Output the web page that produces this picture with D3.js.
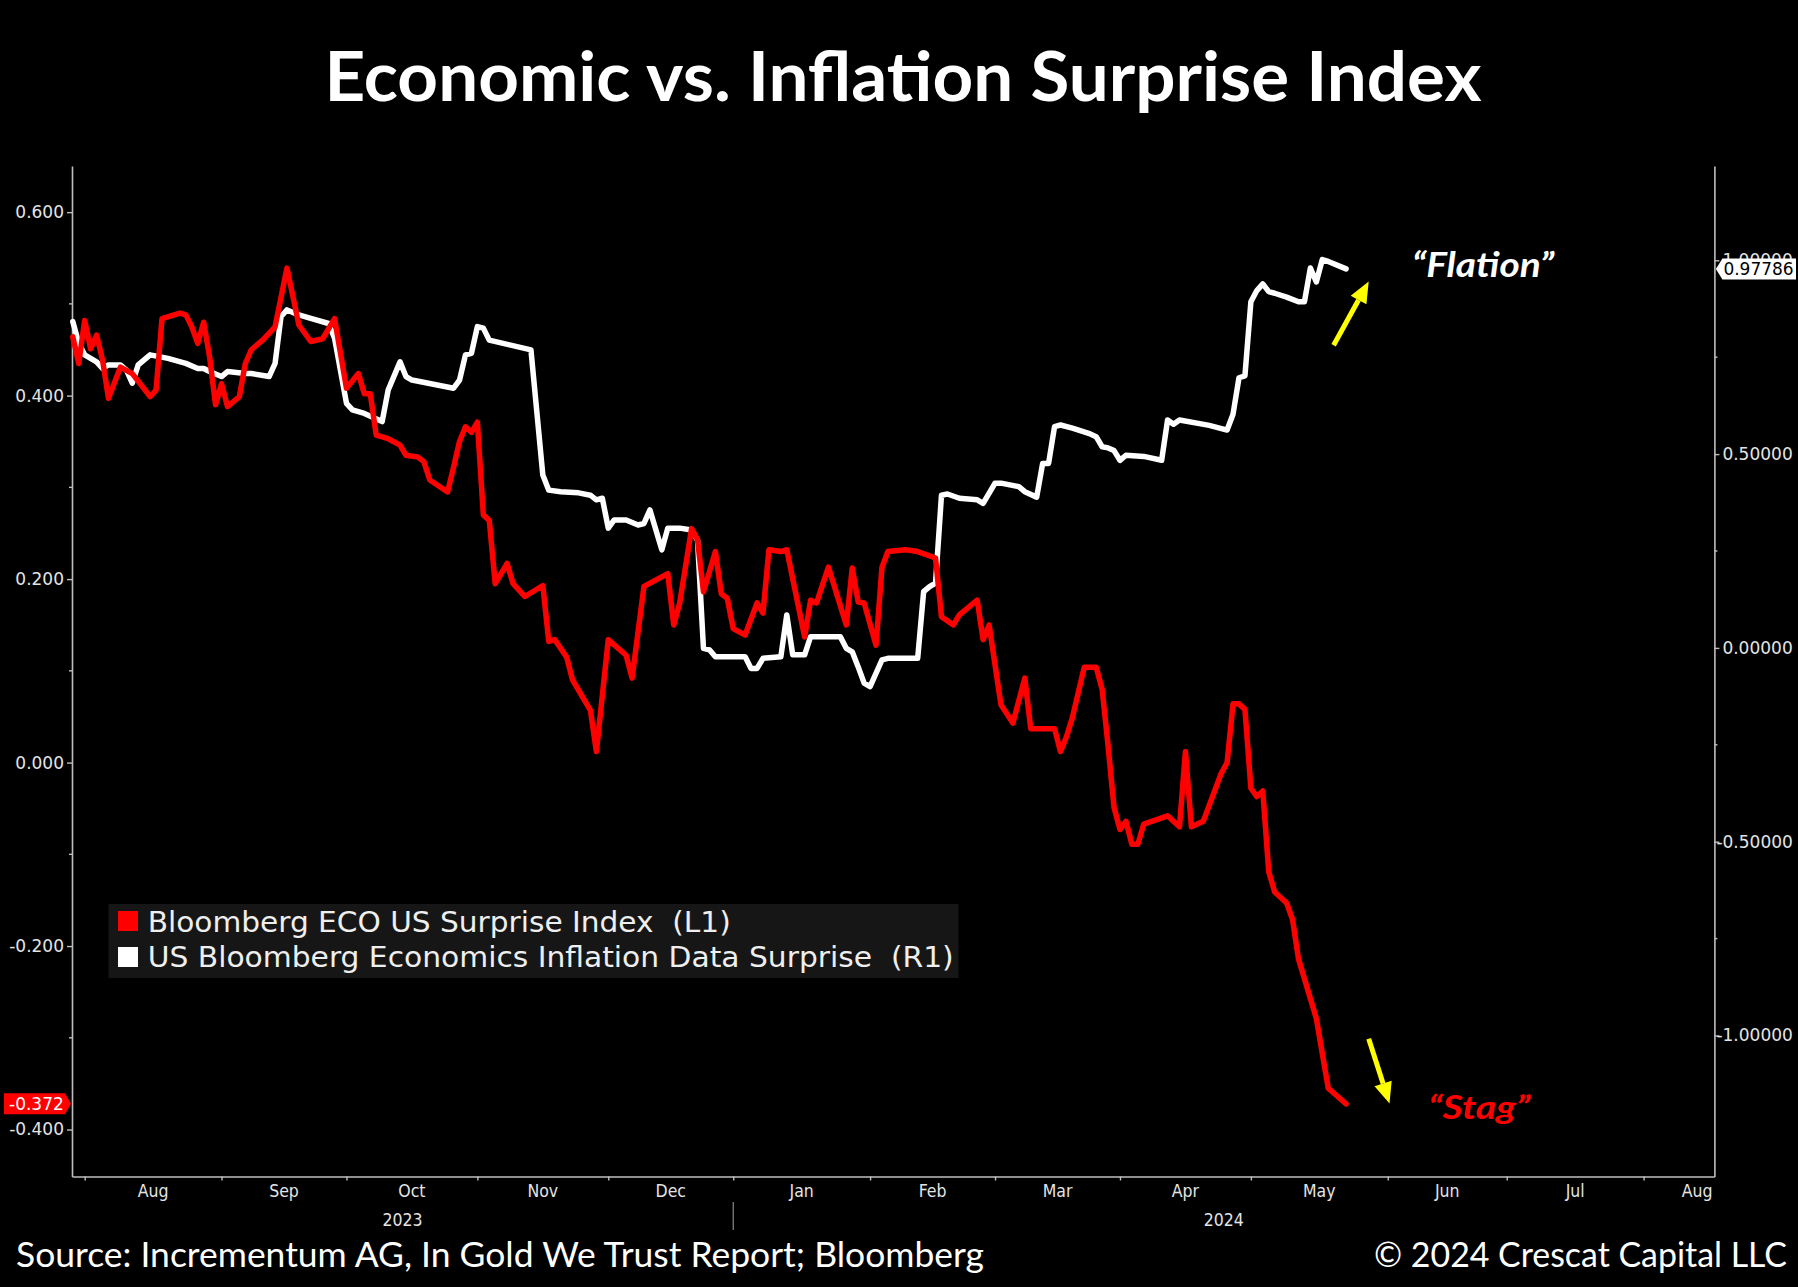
<!DOCTYPE html>
<html><head><meta charset="utf-8">
<script src="https://cdn.jsdelivr.net/npm/d3@7"></script>
<style>
html,body{margin:0;padding:0;background:#000;}
svg{display:block;}
</style></head><body>
<svg id="chart" width="1798" height="1287"></svg>
<script>
// ---------- DATA ----------
const titleText = "Economic vs. Inflation Surprise Index";
const sourceText = "Source: Incrementum AG, In Gold We Trust Report; Bloomberg";
const copyrightText = "© 2024 Crescat Capital LLC";
const seriesNames = ["Bloomberg ECO US Surprise Index  (L1)", "US Bloomberg Economics Inflation Data Surprise  (R1)"];
const annotationTexts = ["\u201CFlation\u201D", "\u201CStag\u201D"];

// business-day calendar (index 0 = 2023-08-01)
const baseDateStr = "2023-08-01";
const monthStarts = ["2023-08-01","2023-09-01","2023-10-01","2023-11-01","2023-12-01","2024-01-01","2024-02-01",
  "2024-03-01","2024-04-01","2024-05-01","2024-06-01","2024-07-01","2024-08-01","2024-09-01"];
const monthLabels = ["Aug","Sep","Oct","Nov","Dec","Jan","Feb","Mar","Apr","May","Jun","Jul","Aug"];
const yearLabels = ["2023","2024"];
const yearBreak = "2024-01-01";

const leftTicks = [0.6, 0.4, 0.2, 0, -0.2, -0.4];
const leftMinorTicks = [0.5, 0.3, 0.1, -0.1, -0.3];
const rightTicks = [1, 0.5, 0, -0.5, -1];
const rightMinorTicks = [0.75, 0.25, -0.25, -0.75];

// Bloomberg ECO US Surprise Index (left axis) — business days since 2023-08-01
const ecoDay = [-2,-1,0,1,2,3,4,6,8,11,12,13,16,17,18,19,20,21,22,23,24,26,27,28,30,32,34,35,36,38,40,42,44,46,47,48,49,51,53,
  54,56,57,58,61,62,63,64,65,66,67,68,69,71,72,73,74,77,78,79,81,82,85,86,88,91,92,94,98,99,100,102,103,104,106,107,108,109,
  111,113,114,115,117,118,121,122,123,125,128,129,130,131,133,134,135,138,140,143,144,146,147,150,151,152,154,156,158,159,163,164,165,
  166,168,170,171,172,173,174,175,176,177,178,182,184,185,186,188,191,192,193,194,195,196,197,198,199,200,202,203,204,207,209,212];
const ecoVal = [0.464,0.435,0.482,0.451,0.466,0.439,0.397,0.431,0.424,0.399,0.406,0.484,0.490,0.488,0.475,0.457,0.480,0.442,0.390,0.413,0.388,0.399,0.435,0.450,0.461,0.475,0.539,0.508,0.477,0.459,0.462,0.484,0.408,0.424,0.402,0.402,0.357,0.353,0.346,
  0.335,0.333,0.328,0.308,0.295,0.322,0.350,0.366,0.360,0.371,0.270,0.264,0.195,0.217,0.195,0.188,0.181,0.193,0.132,0.134,0.115,0.090,0.057,0.012,0.134,0.117,0.092,0.192,0.206,0.150,0.174,0.255,0.243,0.186,0.230,0.184,0.179,0.146,
  0.139,0.174,0.163,0.232,0.230,0.232,0.137,0.177,0.174,0.213,0.150,0.212,0.175,0.174,0.128,0.213,0.230,0.232,0.230,0.223,0.159,0.150,0.161,0.177,0.134,0.150,0.063,0.043,0.092,0.037,0.037,0.012,0.028,
  0.049,0.104,0.104,0.080,0.018,-0.049,-0.073,-0.064,-0.089,-0.089,-0.067,-0.058,-0.070,0.012,-0.070,-0.064,-0.012,0.000,0.064,0.064,0.058,-0.028,-0.037,-0.031,-0.119,-0.141,-0.153,-0.171,-0.214,-0.279,-0.355,-0.372];

// US Bloomberg Economics Inflation Data Surprise (right axis)
const inflDay = [-2,-1,0,2,3,4,6,7,8,9,10,11,14,17,19,20,21,23,24,27,28,31,32,33,34,36,38,41,42,44,45,47,50,51,53,54,55,62,63,64,65,66,67,68,75,
  77,78,80,83,85,86,87,88,89,91,93,94,95,97,98,100,102,103,104,105,106,111,112,113,114,117,118,119,121,122,127,128,129,130,131,132,134,135,140,
  141,142,143,144,145,147,150,151,153,154,157,158,160,161,162,163,164,166,169,170,171,172,173,174,175,178,181,182,183,184,189,192,193,194,195,
  196,197,198,199,200,202,204,205,206,207,208,209,212];
const inflVal = [0.842,0.786,0.756,0.738,0.721,0.730,0.730,0.717,0.683,0.730,0.743,0.756,0.747,0.734,0.721,0.721,0.713,0.700,0.713,0.708,0.708,0.700,0.734,0.855,0.872,0.859,0.850,0.837,0.799,0.631,0.614,0.605,0.584,0.665,0.738,0.700,0.691,0.670,0.691,0.756,0.760,0.829,0.825,0.794,0.769,
  0.446,0.407,0.403,0.400,0.394,0.382,0.386,0.309,0.330,0.330,0.317,0.321,0.356,0.253,0.309,0.309,0.304,0.278,-0.001,-0.005,-0.023,-0.023,-0.053,-0.053,-0.027,-0.023,0.085,-0.018,-0.018,0.029,0.029,-0.001,-0.010,-0.049,-0.091,-0.100,-0.031,-0.027,-0.027,
  0.145,0.158,0.167,0.394,0.397,0.386,0.382,0.373,0.425,0.425,0.416,0.403,0.389,0.476,0.476,0.571,0.575,0.567,0.552,0.545,0.519,0.516,0.509,0.484,0.497,0.494,0.484,0.588,0.577,0.588,0.574,0.562,0.603,0.697,0.702,
  0.893,0.922,0.939,0.919,0.915,0.905,0.893,0.893,0.980,0.944,1.002,0.997,0.97786];

const ecoLast = -0.372;
const inflLast = 0.97786;

// ---------- LAYOUT ----------
const W = 1798, H = 1287;
const plot = {left: 72, right: 1714.4, top: 166, bottom: 1176.5};
const colors = {bg: "#000", red: "#ff0000", white: "#ffffff", axis: "#bfbfbf", text: "#e4e4e4", yellow: "#ffff00", legendBg: "#161616"};

const svg = d3.select("#chart");
svg.append("rect").attr("width", W).attr("height", H).attr("fill", colors.bg);

const parse = d3.timeParse("%Y-%m-%d");
const baseDate = parse(baseDateStr);
function bizIndex(d) {
  const isWk = t => t.getDay() !== 0 && t.getDay() !== 6;
  if (d >= baseDate) return d3.timeDay.range(baseDate, d).filter(isWk).length;
  return -d3.timeDay.range(d, baseDate).filter(isWk).length;
}

const x = d3.scaleLinear().domain([-2.13, 273.9]).range([plot.left, plot.right]);
const yL = d3.scaleLinear().domain([-0.4512, 0.6503]).range([plot.bottom, plot.top]);
const yR = d3.scaleLinear().domain([-1.3638, 1.2433]).range([plot.bottom, plot.top]);

const loc = d3.formatLocale({decimal: ".", thousands: ",", grouping: [3], currency: ["$", ""], minus: "-"});
const fmtL = loc.format(".3f"), fmtR = loc.format(".5f");

const axisFont = "'DejaVu Sans', Verdana, sans-serif";
const condFont = "'DejaVu Sans Condensed', 'Liberation Sans Narrow', 'DejaVu Sans', sans-serif";

// Title
svg.append("text").attr("x", 903).attr("y", 101).attr("text-anchor", "middle")
  .attr("font-family", "Lato, 'Open Sans', sans-serif").attr("font-weight", 700).attr("font-size", 68)
  .attr("fill", "#fff").attr("textLength", 1157).attr("lengthAdjust", "spacingAndGlyphs").text(titleText);

// Axes
function styleAxis(g) {
  g.select(".domain").attr("stroke", colors.axis).attr("stroke-width", 1.6);
  g.selectAll(".tick line").attr("stroke", colors.axis).attr("stroke-width", 1.4);
  g.selectAll(".tick text").attr("fill", colors.text).attr("font-family", axisFont).attr("font-size", 17);
}
const gL = svg.append("g").attr("transform", `translate(${plot.left},0)`)
  .call(d3.axisLeft(yL).tickValues(leftTicks).tickFormat(fmtL).tickSize(5).tickSizeOuter(0).tickPadding(3));
styleAxis(gL);
gL.selectAll(".minor").data(leftMinorTicks).join("line").attr("class", "minor")
  .attr("x1", -3).attr("x2", 0).attr("y1", d => yL(d)).attr("y2", d => yL(d))
  .attr("stroke", colors.axis).attr("stroke-width", 1.4);

const gR = svg.append("g").attr("transform", `translate(${plot.right},0)`)
  .call(d3.axisRight(yR).tickValues(rightTicks).tickFormat(fmtR).tickSize(5).tickSizeOuter(0).tickPadding(3));
styleAxis(gR);
gR.selectAll(".tick text").attr("dx", d => d < 0 ? -6 : 0);
gR.selectAll(".minor").data(rightMinorTicks).join("line").attr("class", "minor")
  .attr("x1", 0).attr("x2", 3).attr("y1", d => yR(d)).attr("y2", d => yR(d))
  .attr("stroke", colors.axis).attr("stroke-width", 1.4);

const monthIdx = monthStarts.map(s => bizIndex(parse(s)));
const gB = svg.append("g").attr("transform", `translate(0,${plot.bottom})`)
  .call(d3.axisBottom(x).tickValues(monthIdx.slice(0, 13)).tickFormat("").tickSize(4).tickSizeOuter(0));
styleAxis(gB);

// month labels at mid-month
const mLab = svg.append("g").attr("font-family", condFont).attr("font-stretch", "condensed")
  .attr("font-size", 17.5).attr("fill", colors.text).attr("text-anchor", "middle");
monthLabels.forEach((m, i) => {
  let cx = (x(monthIdx[i]) + x(monthIdx[i + 1])) / 2;
  const t = mLab.append("text").attr("y", 1197).text(m);
  const w = t.node().getComputedTextLength();
  if (cx + w / 2 > plot.right - 2) cx = plot.right - 2 - w / 2;
  t.attr("x", cx);
});
const xBreak = x(bizIndex(parse(yearBreak)));
mLab.append("text").attr("x", (plot.left + xBreak) / 2).attr("y", 1226).text(yearLabels[0]);
mLab.append("text").attr("x", (xBreak + plot.right) / 2).attr("y", 1226).text(yearLabels[1]);
svg.append("line").attr("x1", xBreak).attr("x2", xBreak).attr("y1", 1202).attr("y2", 1230)
  .attr("stroke", "#8a8a8a").attr("stroke-width", 1.2);

// Lines
const ecoData = ecoDay.map((d, i) => [d, ecoVal[i]]);
const inflData = inflDay.map((d, i) => [d, inflVal[i]]);
svg.append("path").datum(inflData)
  .attr("d", d3.line().x(d => x(d[0])).y(d => yR(d[1])))
  .attr("fill", "none").attr("stroke", colors.white).attr("stroke-width", 5.5).attr("stroke-linejoin", "round").attr("stroke-linecap", "round");
svg.append("path").datum(ecoData)
  .attr("d", d3.line().x(d => x(d[0])).y(d => yL(d[1])))
  .attr("fill", "none").attr("stroke", colors.red).attr("stroke-width", 5.5).attr("stroke-linejoin", "round").attr("stroke-linecap", "round");

// Last value tags
const yl = yL(ecoLast);
svg.append("path").attr("d", `M4,${yl - 10.5}H65L71,${yl}L65,${yl + 10.5}H4Z`).attr("fill", colors.red);
svg.append("text").attr("x", 9).attr("y", yl + 6.5).attr("font-family", axisFont).attr("font-size", 17)
  .attr("fill", "#fff").text(fmtL(ecoLast));
const yr = yR(inflLast);
svg.append("path").attr("d", `M${plot.right + 1.5},${yr}L${plot.right + 8},${yr - 10.5}H1796V${yr + 10.5}H${plot.right + 8}Z`).attr("fill", "#fff");
svg.append("text").attr("x", plot.right + 9).attr("y", yr + 6.5).attr("font-family", axisFont).attr("font-size", 17)
  .attr("fill", "#000").text(loc.format(".5f")(inflLast));

// Legend
const lg = svg.append("g");
lg.append("rect").attr("x", 108.5).attr("y", 904).attr("width", 850).attr("height", 74).attr("fill", colors.legendBg);
lg.append("rect").attr("x", 118).attr("y", 911).attr("width", 20).attr("height", 20).attr("fill", colors.red);
lg.append("rect").attr("x", 118).attr("y", 947).attr("width", 20).attr("height", 20).attr("fill", "#fff");
lg.append("text").attr("x", 147.7).attr("y", 931.5).text(seriesNames[0]).attr("textLength", 583);
lg.append("text").attr("x", 147.7).attr("y", 966.5).text(seriesNames[1]).attr("textLength", 806);
lg.selectAll("text").attr("font-family", condFont).attr("font-stretch", "condensed").attr("font-size", 28)
  .attr("fill", "#efefef").attr("lengthAdjust", "spacingAndGlyphs").style("white-space", "pre");

// Annotations (anchored in data space)
function arrow(x0, y0, x1, y1) {
  const ang = Math.atan2(y1 - y0, x1 - x0), L = 21, Wd = 9;
  const bx = x1 - L * Math.cos(ang), by = y1 - L * Math.sin(ang);
  svg.append("line").attr("x1", x0).attr("y1", y0).attr("x2", bx).attr("y2", by)
    .attr("stroke", colors.yellow).attr("stroke-width", 5);
  const px = -Math.sin(ang) * Wd, py = Math.cos(ang) * Wd;
  svg.append("path").attr("d", `M${x1},${y1}L${bx + px},${by + py}L${bx - px},${by - py}Z`).attr("fill", colors.yellow);
}
arrow(x(209.9), yR(0.781), x(215.8), yR(0.945));
arrow(x(215.8), yL(-0.301), x(219.3), yL(-0.3715));
svg.append("text").attr("x", x(223.1)).attr("y", yR(0.958)).text(annotationTexts[0])
  .attr("font-family", "Lato, 'Open Sans', sans-serif").attr("font-weight", 700).attr("font-style", "italic")
  .attr("font-size", 35).attr("fill", "#fff").attr("textLength", 142).attr("lengthAdjust", "spacingAndGlyphs");
svg.append("text").attr("x", x(225.8)).attr("y", yL(-0.389)).text(annotationTexts[1])
  .attr("font-family", "Lato, 'Open Sans', sans-serif").attr("font-weight", 700).attr("font-style", "italic")
  .attr("font-size", 33).attr("fill", colors.red).attr("textLength", 102).attr("lengthAdjust", "spacingAndGlyphs");

// Footer
svg.append("text").attr("x", 16).attr("y", 1267).text(sourceText)
  .attr("font-family", "Lato, 'Open Sans', sans-serif").attr("font-size", 35).attr("fill", "#fff")
  .attr("textLength", 968).attr("lengthAdjust", "spacingAndGlyphs");
svg.append("text").attr("x", 1787).attr("y", 1267).attr("text-anchor", "end").text(copyrightText)
  .attr("font-family", "Lato, 'Open Sans', sans-serif").attr("font-size", 35).attr("fill", "#fff")
  .attr("textLength", 413).attr("lengthAdjust", "spacingAndGlyphs");
</script>
</body></html>
